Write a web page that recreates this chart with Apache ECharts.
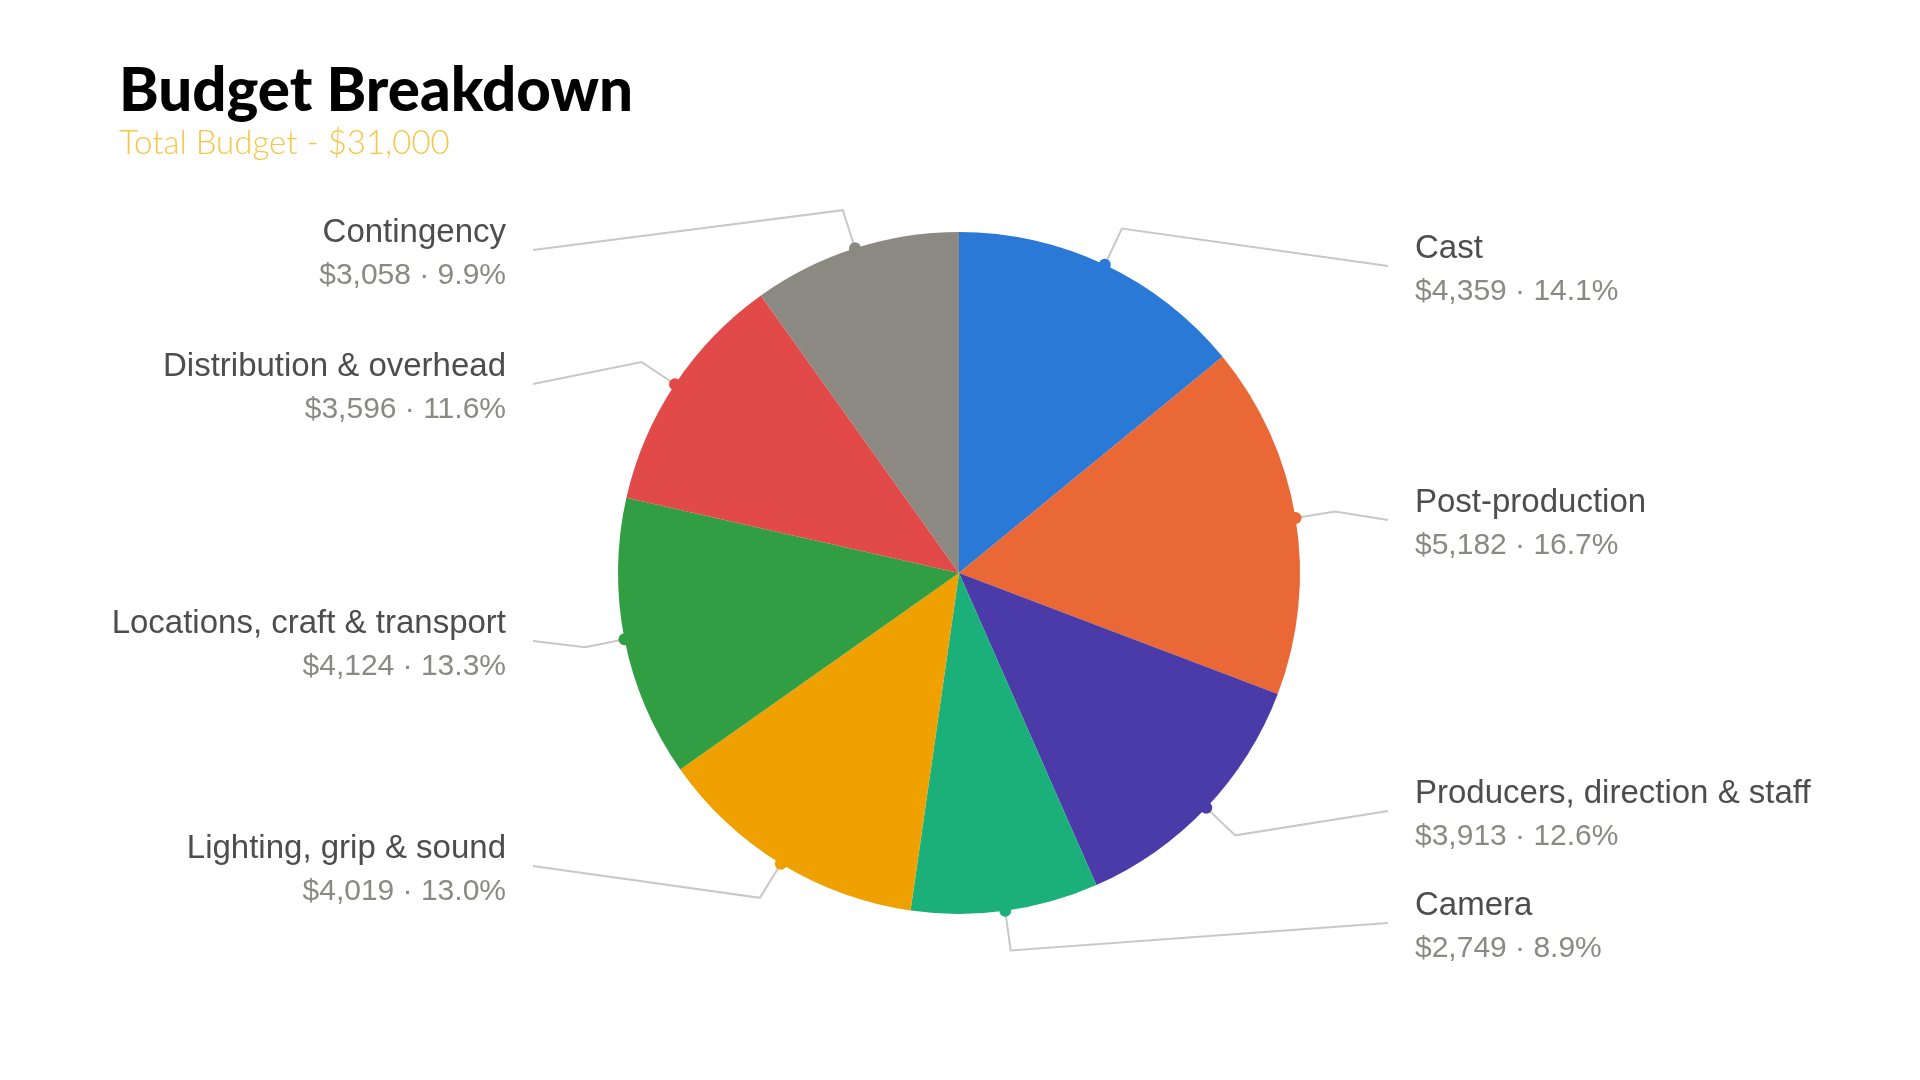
<!DOCTYPE html>
<html>
<head>
<meta charset="utf-8">
<title>Budget Breakdown</title>
<script src="https://cdn.jsdelivr.net/npm/echarts@6/dist/echarts.min.js"></script>
<style>
html, body { margin: 0; padding: 0; background: #fff; }
#main { width: 1920px; height: 1080px; }
</style>
</head>
<body>
<div id="main"></div>
<script>
var categories = ['Cast', 'Post-production', 'Producers, direction & staff', 'Camera',
    'Lighting, grip & sound', 'Locations, craft & transport', 'Distribution & overhead', 'Contingency'];
var amounts = [4359, 5182, 3913, 2749, 4019, 4124, 3596, 3058];
var colors = ['#2b79d6', '#ea6835', '#4a3ba8', '#1bb07a', '#eea100', '#319e44', '#e24a4a', '#8c8982'];

// vertical centre of each label block, px
var labelY = [270, 524, 815, 927, 870, 645, 388, 254];

var CX = 959, CY = 573, R = 341;
var total = amounts.reduce(function (a, b) { return a + b; }, 0);

var myChart = echarts.init(document.getElementById('main'));

function money(v) {
    return '$' + v.toLocaleString('en-US');
}

// little dots on the rim, at the middle of every slice
var cum = 0;
var dots = amounts.map(function (v, i) {
    var mid = cum + v / 2;
    cum += v;
    return { value: [1, mid], itemStyle: { color: colors[i], opacity: 1 } };
});

option = {
    backgroundColor: '#ffffff',
    animation: false,
    title: {
        text: 'Budget Breakdown',
        subtext: 'Total Budget - $31,000',
        left: 114,
        top: 57,
        itemGap: 5,
        textStyle: {
            fontFamily: 'Lato',
            fontWeight: 900,
            fontSize: 60,
            color: '#000000'
        },
        subtextStyle: {
            fontFamily: 'Lato',
            fontWeight: 300,
            fontSize: 33,
            color: '#f8c546'
        }
    },
    polar: {
        center: [CX, CY],
        radius: R
    },
    angleAxis: {
        type: 'value',
        min: 0,
        max: total,
        startAngle: 90,
        clockwise: true,
        show: false
    },
    radiusAxis: {
        type: 'value',
        min: 0,
        max: 1,
        show: false
    },
    series: [{
        type: 'pie',
        center: [CX, CY],
        radius: R,
        startAngle: 90,
        avoidLabelOverlap: false,
        data: categories.map(function (c, i) {
            return { name: c, value: amounts[i], itemStyle: { color: colors[i] } };
        }),
        label: {
            show: true,
            position: 'outside',
            formatter: function (p) {
                return '{n|' + p.name + '}\n{v|' + money(p.value) + ' \u00b7 ' +
                    (p.value / total * 100).toFixed(1) + '%}';
            },
            rich: {
                n: { fontFamily: 'Liberation Sans', fontSize: 33, color: '#4d4d4d', lineHeight: 43 },
                v: { fontFamily: 'Liberation Sans', fontSize: 30, color: '#8a8a84', lineHeight: 43 }
            }
        },
        labelLine: {
            show: true,
            length: 40,
            length2: 10,
            lineStyle: { color: '#c8c8c8', width: 2 }
        },
        labelLayout: function (params) {
            var i = params.dataIndex;
            var right = i < 4;
            var p0 = params.labelLinePoints[0];
            var dx = p0[0] - CX, dy = p0[1] - CY;
            var d = Math.sqrt(dx * dx + dy * dy);
            var elbow = [p0[0] + dx / d * 40, p0[1] + dy / d * 40];
            var y = labelY[i];
            var lx = right ? 1415 : 506;
            var ex = right ? lx - 27 : lx + 27;
            return {
                x: lx,
                y: y,
                align: right ? 'left' : 'right',
                verticalAlign: 'middle',
                labelLinePoints: [p0, elbow, [ex, y - 4]]
            };
        },
        emphasis: { disabled: true }
    }, {
        type: 'scatter',
        coordinateSystem: 'polar',
        symbolSize: 12,
        silent: true,
        z: 5,
        data: dots
    }]
};

myChart.setOption(option);
</script>
</body>
</html>
